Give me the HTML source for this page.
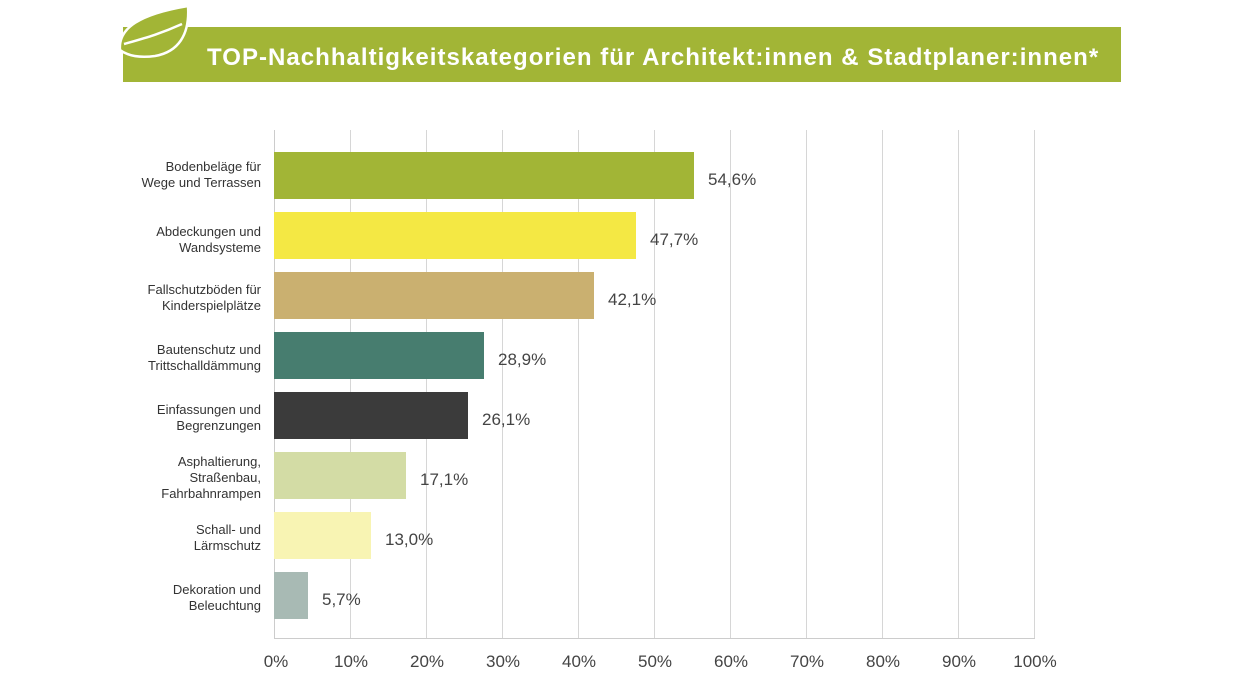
<!DOCTYPE html>
<html><head><meta charset="utf-8"><style>
body{margin:0;width:1238px;height:687px;background:#fff;position:relative;overflow:hidden;font-family:"Liberation Sans",sans-serif;}
.a{position:absolute;}
.cat{position:absolute;right:977px;text-align:right;font-size:13px;line-height:16px;color:#333;}
.val{position:absolute;font-size:17px;color:#444;}
.tick{position:absolute;top:652px;font-size:17px;color:#444;width:80px;text-align:center;}
.g{position:absolute;top:130px;height:509px;width:1px;background:#d6d6d6;}
.bar{position:absolute;left:274px;height:47px;}
</style></head><body>
<div class="a" style="left:123px;top:27px;width:998px;height:55px;background:#a2b536;"></div>
<svg class="a" style="left:110px;top:0px" width="90" height="65" viewBox="0 0 90 65">
<path d="M10 50 C8 28 30 14 78 6 C80 35 68 52 45 56 C30 58 18 56 10 50 Z" fill="#a2b536" stroke="#fff" stroke-width="2.5"/>
<path d="M14 44 C35 38 50 34 72 24" fill="none" stroke="#fff" stroke-width="2.5"/>
</svg>
<div class="a" style="left:207px;top:44px;white-space:nowrap;color:#fff;font-weight:bold;font-size:24px;letter-spacing:1.03px;">TOP-Nachhaltigkeitskategorien für Architekt:innen &amp; Stadtplaner:innen*</div>

<div class="g" style="left:274px;background:#ccc"></div>
<div class="g" style="left:350px"></div><div class="g" style="left:426px"></div><div class="g" style="left:502px"></div><div class="g" style="left:578px"></div><div class="g" style="left:654px"></div><div class="g" style="left:730px"></div><div class="g" style="left:806px"></div><div class="g" style="left:882px"></div><div class="g" style="left:958px"></div><div class="g" style="left:1034px"></div>
<div class="a" style="left:274px;top:638px;width:761px;height:1px;background:#ccc"></div>

<div class="bar" style="top:152px;width:420px;background:#a2b536"></div>
<div class="bar" style="top:212px;width:362px;background:#f4e844"></div>
<div class="bar" style="top:272px;width:320px;background:#cab070"></div>
<div class="bar" style="top:332px;width:210px;background:#477d6f"></div>
<div class="bar" style="top:392px;width:194px;background:#3b3b3b"></div>
<div class="bar" style="top:452px;width:132px;background:#d3dca5"></div>
<div class="bar" style="top:512px;width:97px;background:#f8f4b3"></div>
<div class="bar" style="top:572px;width:34px;background:#a8bab4"></div>

<div class="val" style="left:708px;top:170px">54,6%</div>
<div class="val" style="left:650px;top:230px">47,7%</div>
<div class="val" style="left:608px;top:290px">42,1%</div>
<div class="val" style="left:498px;top:350px">28,9%</div>
<div class="val" style="left:482px;top:410px">26,1%</div>
<div class="val" style="left:420px;top:470px">17,1%</div>
<div class="val" style="left:385px;top:530px">13,0%</div>
<div class="val" style="left:322px;top:590px">5,7%</div>

<div class="cat" style="top:159px">Bodenbeläge für<br>Wege und Terrassen</div>
<div class="cat" style="top:224px">Abdeckungen und<br>Wandsysteme</div>
<div class="cat" style="top:282px">Fallschutzböden für<br>Kinderspielplätze</div>
<div class="cat" style="top:342px">Bautenschutz und<br>Trittschalldämmung</div>
<div class="cat" style="top:402px">Einfassungen und<br>Begrenzungen</div>
<div class="cat" style="top:454px">Asphaltierung,<br>Straßenbau,<br>Fahrbahnrampen</div>
<div class="cat" style="top:522px">Schall- und<br>Lärmschutz</div>
<div class="cat" style="top:582px">Dekoration und<br>Beleuchtung</div>

<div class="tick" style="left:236px">0%</div><div class="tick" style="left:311px">10%</div><div class="tick" style="left:387px">20%</div><div class="tick" style="left:463px">30%</div><div class="tick" style="left:539px">40%</div><div class="tick" style="left:615px">50%</div><div class="tick" style="left:691px">60%</div><div class="tick" style="left:767px">70%</div><div class="tick" style="left:843px">80%</div><div class="tick" style="left:919px">90%</div><div class="tick" style="left:995px">100%</div>
</body></html>
